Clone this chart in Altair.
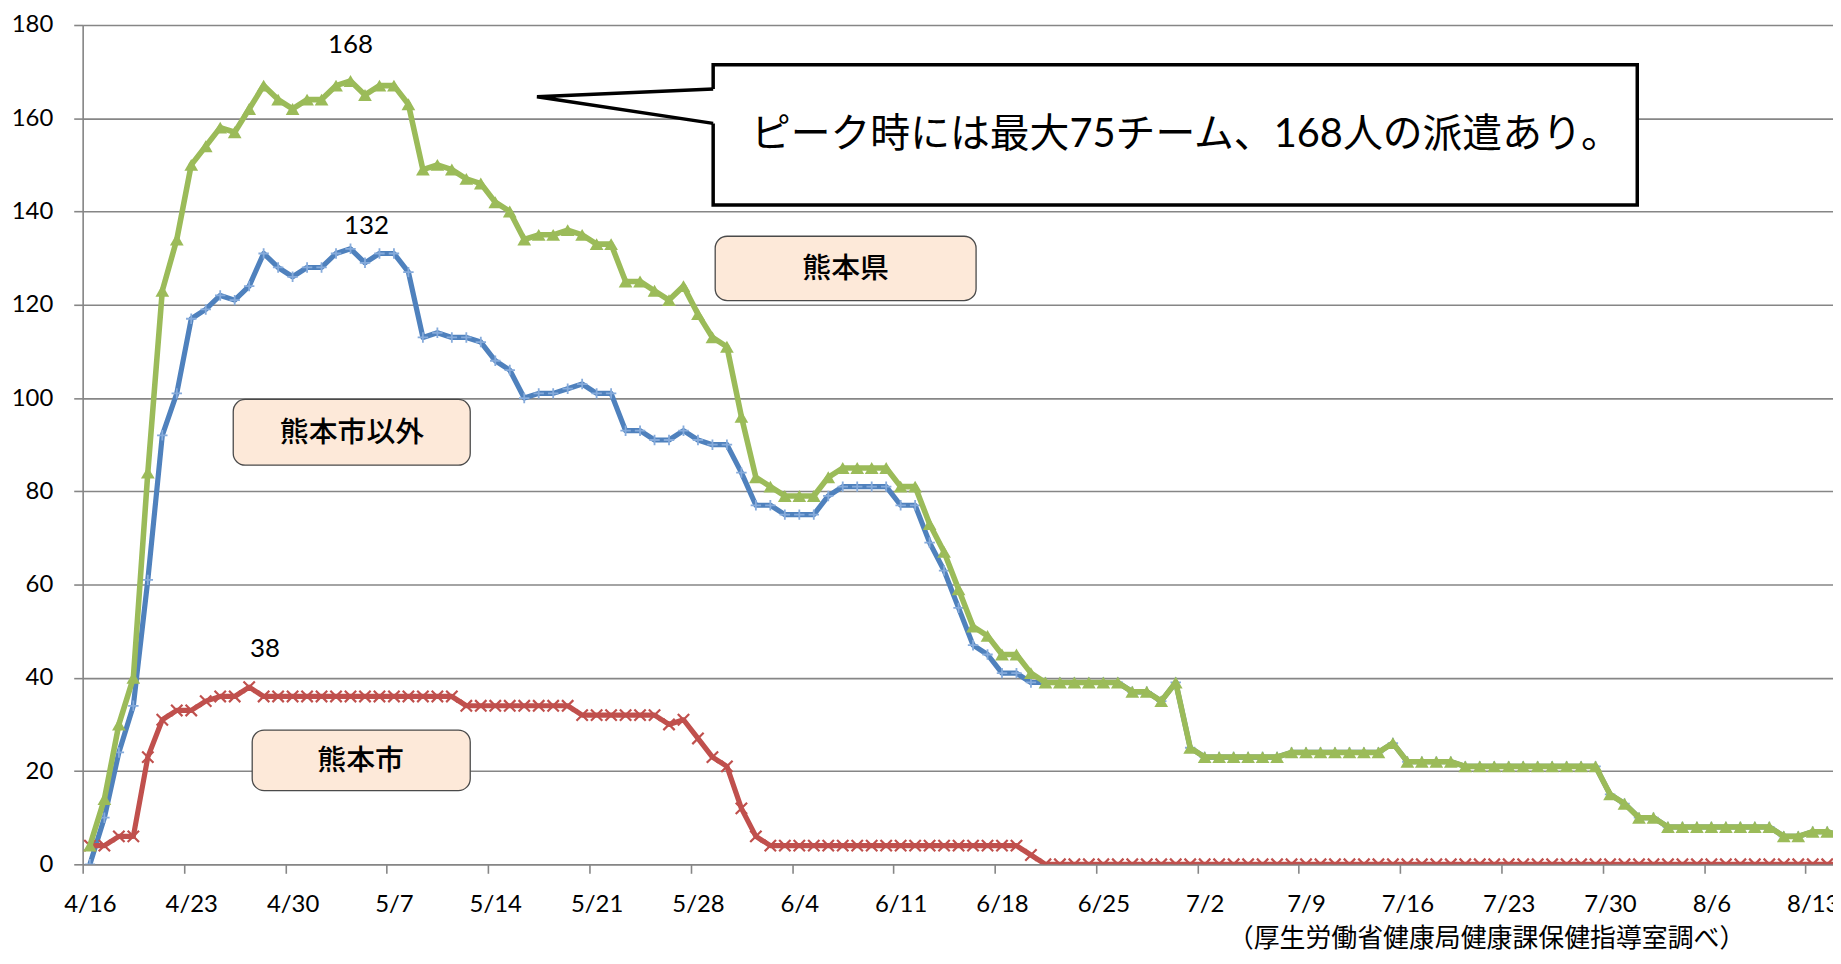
import json
import altair as alt
import pandas as pd

# ---- data (day index 0 = 4/16, one value per day) ----
tick_labels = ["4/16", "4/23", "4/30", "5/7", "5/14", "5/21", "5/28", "6/4", "6/11",
               "6/18", "6/25", "7/2", "7/9", "7/16", "7/23", "7/30", "8/6", "8/13"]

# 熊本県
kumamoto_pref = [
    4, 14, 30, 40, 84, 123, 134, 150, 154, 158,
    157, 162, 167, 164, 162, 164, 164, 167, 168, 165,
    167, 167, 163, 149, 150, 149, 147, 146, 142, 140,
    134, 135, 135, 136, 135, 133, 133, 125, 125, 123,
    121, 124, 118, 113, 111, 96, 83, 81, 79, 79,
    79, 83, 85, 85, 85, 85, 81, 81, 73, 67,
    59, 51, 49, 45, 45, 41, 39, 39, 39, 39,
    39, 39, 37, 37, 35, 39, 25, 23, 23, 23,
    23, 23, 23, 24, 24, 24, 24, 24, 24, 24,
    26, 22, 22, 22, 22, 21, 21, 21, 21, 21,
    21, 21, 21, 21, 21, 15, 13, 10, 10, 8,
    8, 8, 8, 8, 8, 8, 8, 6, 6, 7,
    7, 6,
]

# 熊本市以外
outside_city = [
    0, 10, 24, 34, 61, 92, 101, 117, 119, 122,
    121, 124, 131, 128, 126, 128, 128, 131, 132, 129,
    131, 131, 127, 113, 114, 113, 113, 112, 108, 106,
    100, 101, 101, 102, 103, 101, 101, 93, 93, 91,
    91, 93, 91, 90, 90, 84, 77, 77, 75, 75,
    75, 79, 81, 81, 81, 81, 77, 77, 69, 63,
    55, 47, 45, 41, 41, 39, 39, 39, 39, 39,
    39, 39, 37, 37, 35, 39, 25, 23, 23, 23,
    23, 23, 23, 24, 24, 24, 24, 24, 24, 24,
    26, 22, 22, 22, 22, 21, 21, 21, 21, 21,
    21, 21, 21, 21, 21, 15, 13, 10, 10, 8,
    8, 8, 8, 8, 8, 8, 8, 6, 6, 7,
    7, 6,
]

# 熊本市
kumamoto_city = [
    4, 4, 6, 6, 23, 31, 33, 33, 35, 36,
    36, 38, 36, 36, 36, 36, 36, 36, 36, 36,
    36, 36, 36, 36, 36, 36, 34, 34, 34, 34,
    34, 34, 34, 34, 32, 32, 32, 32, 32, 32,
    30, 31, 27, 23, 21, 12, 6, 4, 4, 4,
    4, 4, 4, 4, 4, 4, 4, 4, 4, 4,
    4, 4, 4, 4, 4, 2, 0, 0, 0, 0,
    0, 0, 0, 0, 0, 0, 0, 0, 0, 0,
    0, 0, 0, 0, 0, 0, 0, 0, 0, 0,
    0, 0, 0, 0, 0, 0, 0, 0, 0, 0,
    0, 0, 0, 0, 0, 0, 0, 0, 0, 0,
    0, 0, 0, 0, 0, 0, 0, 0, 0, 0,
    0, 0,
]

callout_text = "ピーク時には最大75チーム、168人の派遣あり。"
label_pref = "熊本県"
label_outside = "熊本市以外"
label_city = "熊本市"
source_note = "（厚生労働省健康局健康課保健指導室調べ）"

assert len(kumamoto_pref) == len(outside_city) == len(kumamoto_city)

# ---- layout ----
PLOT_W, PLOT_H = 1758, 843
X_DOMAIN = [-0.5, 120.4]
DAY_PX = PLOT_W / (X_DOMAIN[1] - X_DOMAIN[0])

GREEN, BLUE, RED = "#9BBB59", "#4F81BD", "#C0504D"
GRID = "#868686"
NUM_FONT = "Lato, Noto Sans CJK JP"
JP_FONT = "Noto Sans CJK JP"

df = pd.DataFrame({
    "day": list(range(len(kumamoto_pref))),
    "pref": kumamoto_pref,
    "outside": outside_city,
    "city": kumamoto_city,
})

xs = alt.Scale(domain=X_DOMAIN, nice=False, zero=False)
ys = alt.Scale(domain=[0, 180], nice=False)

label_expr = json.dumps(tick_labels) + "[round(datum.value / 7)]"
x_axis = alt.Axis(
    values=[7 * i for i in range(len(tick_labels))], labelExpr=label_expr, title=None,
    grid=False, domainColor=GRID, domainWidth=1.6, tickColor=GRID, tickWidth=1.6,
    tickSize=9, tickOffset=-DAY_PX / 2, labelOffset=DAY_PX / 2, labelFont=NUM_FONT,
    labelFontSize=24, labelColor="black", labelPadding=19, labelOverlap=False,
    labelFlush=False,
)
y_axis = alt.Axis(
    values=list(range(0, 181, 20)), title=None, grid=True, gridColor=GRID,
    gridWidth=1.6, domainColor=GRID, domainWidth=1.6, tickColor=GRID, tickWidth=1.6,
    tickSize=9, labelFont=NUM_FONT, labelFontSize=24, labelColor="black",
    labelPadding=21,
)

X = alt.X("day:Q", scale=xs, axis=x_axis)


def series(field, color, stroke_w, point_kwargs):
    base = alt.Chart(df)
    line = base.mark_line(color=color, strokeWidth=stroke_w, clip=True,
                          strokeJoin="round").encode(
        x=X, y=alt.Y(f"{field}:Q", scale=ys, axis=y_axis))
    pts = base.mark_point(clip=True, opacity=1, **point_kwargs).encode(
        x=X, y=alt.Y(f"{field}:Q", scale=ys, axis=y_axis))
    return [line, pts]


blue_layers = series("outside", BLUE, 5.2, dict(
    shape="M-1,0H1M0,-1V1", size=110, filled=False, stroke="#86ABDB", strokeWidth=1.8))
red_layers = series("city", RED, 5.2, dict(
    shape="M-1,-1L1,1M-1,1L1,-1", size=130, filled=False, stroke=RED, strokeWidth=2.2))
green_layers = series("pref", GREEN, 5.6, dict(
    shape="triangle-up", size=190, filled=True, fill=GREEN, stroke=GREEN, strokeWidth=0))

one = pd.DataFrame({"a": [0]})


def peak_label(values, dx, dy):
    v = max(values)
    i = values.index(v)
    return alt.Chart(one).mark_text(
        text=str(v), font=NUM_FONT, fontSize=26, color="black", dx=dx, dy=dy,
        baseline="middle", align="center").encode(
        x=alt.datum(i, scale=xs), y=alt.datum(v, scale=ys))


labels = [
    peak_label(kumamoto_pref, 0, -36),
    peak_label(outside_city, 16, -23),
    peak_label(kumamoto_city, 16, -38),
]


def tag_box(x0, x1, y0, y1, text, tx, ty):
    box = alt.Chart(one).mark_rect(
        fill="#FDE9D9", stroke="#4A4A4A", strokeWidth=1.3, cornerRadius=12).encode(
        x=alt.datum(x0), x2=alt.datum(x1), y=alt.datum(y0), y2=alt.datum(y1))
    txt = alt.Chart(one).mark_text(
        text=text, font=JP_FONT, fontSize=29, fontWeight=500, color="black",
        baseline="middle", align="center").encode(x=alt.datum(tx), y=alt.datum(ty))
    return [box, txt]


tags = (tag_box(43.19, 61.21, 134.7, 120.9, label_pref, 52.2, 127.6)
        + tag_box(9.90, 26.27, 99.7, 85.6, label_outside, 18.1, 92.4)
        + tag_box(11.21, 26.27, 28.8, 15.8, label_city, 18.7, 22.1))

# callout bubble (data coordinates)
box_l, box_r, box_t, box_b = 43.05, 106.88, 171.5, 141.4
tip_x, tip_y = 30.88, 164.6
j_top, j_bot = 166.3, 158.9

callout_box = alt.Chart(one).mark_rect(
    fill="white", stroke="black", strokeWidth=3.5).encode(
    x=alt.datum(box_l), x2=alt.datum(box_r), y=alt.datum(box_t), y2=alt.datum(box_b))
ptr_fill = alt.Chart(pd.DataFrame({
    "x": [tip_x, box_l, box_l + 0.3],
    "y": [tip_y, j_top, j_top],
    "y2": [tip_y, j_bot, j_bot],
})).mark_area(color="white", opacity=1).encode(
    x=alt.X("x:Q", scale=xs), y=alt.Y("y:Q", scale=ys), y2="y2:Q")
ptr_line = alt.Chart(pd.DataFrame({
    "x": [box_l, tip_x, box_l], "y": [j_top, tip_y, j_bot], "o": [0, 1, 2],
})).mark_line(color="black", strokeWidth=3.5, strokeJoin="miter").encode(
    x=alt.X("x:Q", scale=xs), y=alt.Y("y:Q", scale=ys), order="o:Q")
callout_txt = alt.Chart(one).mark_text(
    text=callout_text, font=NUM_FONT, fontSize=40, color="black", baseline="middle",
    align="center").encode(x=alt.datum(75.7), y=alt.datum(156.4))

note = alt.Chart(one).mark_text(
    text=source_note, font=JP_FONT, fontSize=26, color="black", baseline="middle",
    align="center").encode(x=alt.value(1410), y=alt.value(918))

chart = alt.layer(
    *blue_layers, *red_layers, *green_layers,
    *labels, *tags, callout_box, ptr_fill, ptr_line, callout_txt, note,
).properties(
    width=PLOT_W, height=PLOT_H,
    autosize=alt.AutoSizeParams(type="none"),
    padding={"left": 75, "top": 15, "right": 0, "bottom": 90},
).configure_view(strokeWidth=0).configure(background="white")

chart.save("out.html", embed_options={"renderer": "svg", "actions": False})
